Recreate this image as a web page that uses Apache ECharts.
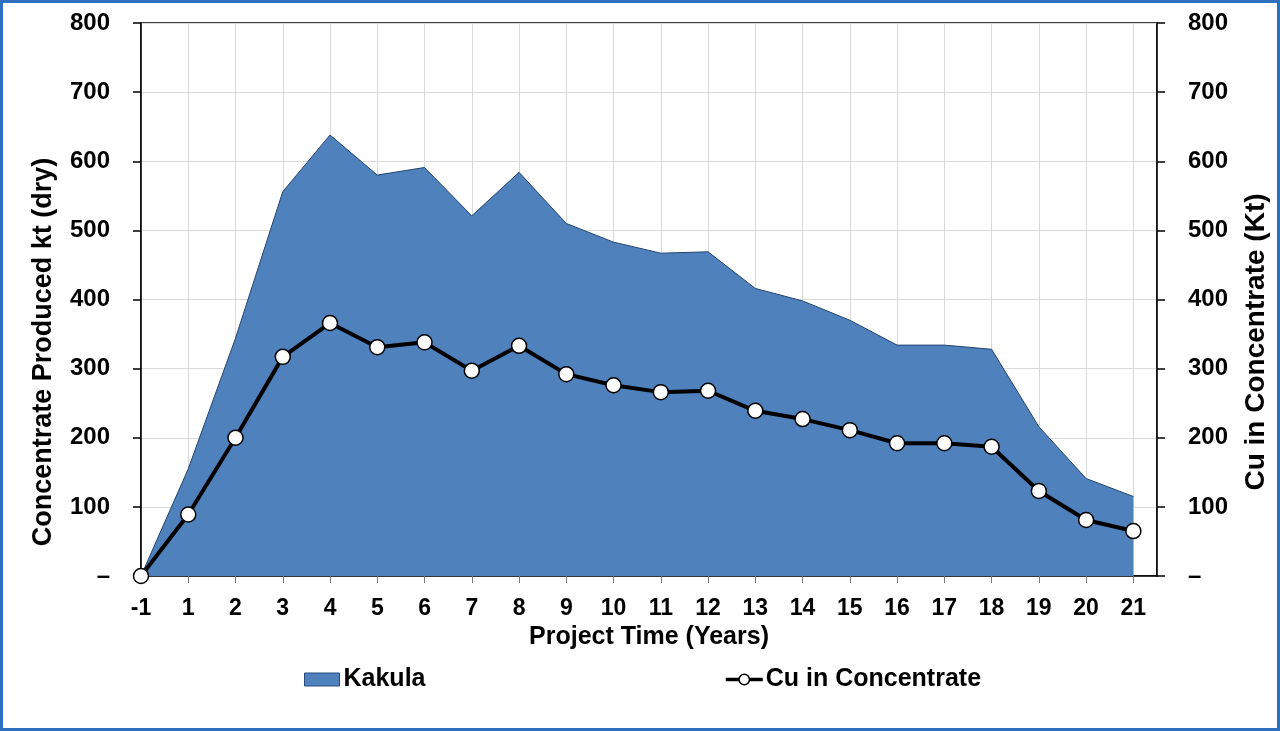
<!DOCTYPE html>
<html>
<head>
<meta charset="utf-8">
<script src="https://cdn.jsdelivr.net/npm/echarts@6/dist/echarts.min.js"></script>
<style>
html,body{margin:0;padding:0;background:#fff;}
#frame{width:1280px;height:731px;box-sizing:border-box;border:3px solid #2f6fc0;position:relative;}
#chart{position:absolute;left:-3px;top:-3px;width:1280px;height:731px;}
</style>
</head>
<body>
<div id="frame"><div id="chart"></div></div>
<script>
const categories = ['-1','1','2','3','4','5','6','7','8','9','10','11','12','13','14','15','16','17','18','19','20','21'];
const kakula = [0,155,344,556,638,580,591,521,584,510,483,467,469,416,398,370,334,334,328,216,141,115];
const cuInConcentrate = [0,89,200,317,366,331,338,297,333,292,276,266,268,239,227,211,192,192,187,123,81,65];
const leftTitle = 'Concentrate Produced kt (dry)';
const rightTitle = 'Cu in Concentrate (Kt)';
const xTitle = 'Project Time (Years)';

const font = "'Liberation Sans', Arial, sans-serif";
const pts = arr => arr.map((v,i)=>[i,v]);
const yLabel = v => (v===0 ? '–' : String(v));

const chart = echarts.init(document.getElementById('chart'));
chart.setOption({
  animation:false,
  grid:{left:141,right:123,top:23,bottom:155,show:true,borderColor:'#000',borderWidth:1.5},
  graphic:[
    {type:'text',x:44,y:352,rotation:Math.PI/2,
     style:{text:leftTitle,font:"bold 27px 'Liberation Sans', Arial, sans-serif",fill:'#000',align:'center',verticalAlign:'middle'}},
    {type:'text',x:1256,y:342,rotation:Math.PI/2,
     style:{text:rightTitle,font:"bold 28px 'Liberation Sans', Arial, sans-serif",fill:'#000',align:'center',verticalAlign:'middle'}}
  ],
  legend:[
    {data:[{name:'Kakula',icon:'rect',itemStyle:{color:'#4f81bd',borderColor:'#2a4a7a',borderWidth:1}}],
     left:299,top:662,itemWidth:35,itemHeight:13,
     textStyle:{fontFamily:font,fontWeight:'bold',fontSize:25,color:'#000',padding:[0,0,0,-1]}},
    {data:[{name:'Cu in Concentrate',lineStyle:{width:3.5,color:'#000'},itemStyle:{color:'#fff',borderColor:'#000',borderWidth:1.5}}],
     left:719,top:662,itemWidth:37,itemHeight:13,
     textStyle:{fontFamily:font,fontWeight:'bold',fontSize:25,color:'#000',padding:[0,0,0,-2]}}
  ],
  xAxis:{
    type:'value',min:0,max:21.5,interval:1,
    name:xTitle,nameLocation:'middle',nameGap:49,
    nameTextStyle:{fontFamily:font,fontWeight:'bold',fontSize:25,color:'#000'},
    axisLine:{show:true,lineStyle:{color:'#000',width:1.5}},
    axisTick:{show:true,length:7,lineStyle:{color:'#777'}},
    axisLabel:{showMaxLabel:false,margin:21,fontFamily:font,fontWeight:'bold',fontSize:23,color:'#000',
      formatter:v=>(Number.isInteger(v)&&v<categories.length)?categories[v]:''},
    splitLine:{show:true,lineStyle:{color:'#d9d9d9',width:1}}
  },
  yAxis:[
    {type:'value',min:0,max:800,interval:100,position:'left',
     axisLine:{show:true,lineStyle:{color:'#000',width:1.5}},
     axisTick:{show:true,length:8,lineStyle:{color:'#000',width:1.5}},
     axisLabel:{margin:31,fontFamily:font,fontWeight:'bold',fontSize:24,color:'#000',formatter:yLabel},
     splitLine:{show:true,lineStyle:{color:'#d9d9d9',width:1}}},
    {type:'value',min:0,max:800,interval:100,position:'right',
     axisLine:{show:true,lineStyle:{color:'#000',width:1.5}},
     axisTick:{show:true,length:8,lineStyle:{color:'#000',width:1.5}},
     axisLabel:{margin:31,fontFamily:font,fontWeight:'bold',fontSize:24,color:'#000',formatter:yLabel},
     splitLine:{show:false}}
  ],
  series:[
    {name:'Kakula',type:'line',yAxisIndex:0,data:pts(kakula),symbol:'none',
     lineStyle:{color:'#24446f',width:1},
     itemStyle:{color:'#4f81bd'},
     areaStyle:{color:'#4f81bd',opacity:1},z:1},
    {name:'Cu in Concentrate',type:'line',yAxisIndex:1,data:pts(cuInConcentrate),
     symbol:'circle',symbolSize:15,
     lineStyle:{color:'#000',width:4},
     itemStyle:{color:'#fff',borderColor:'#000',borderWidth:1.5},z:3}
  ]
});
</script>
</body>
</html>
